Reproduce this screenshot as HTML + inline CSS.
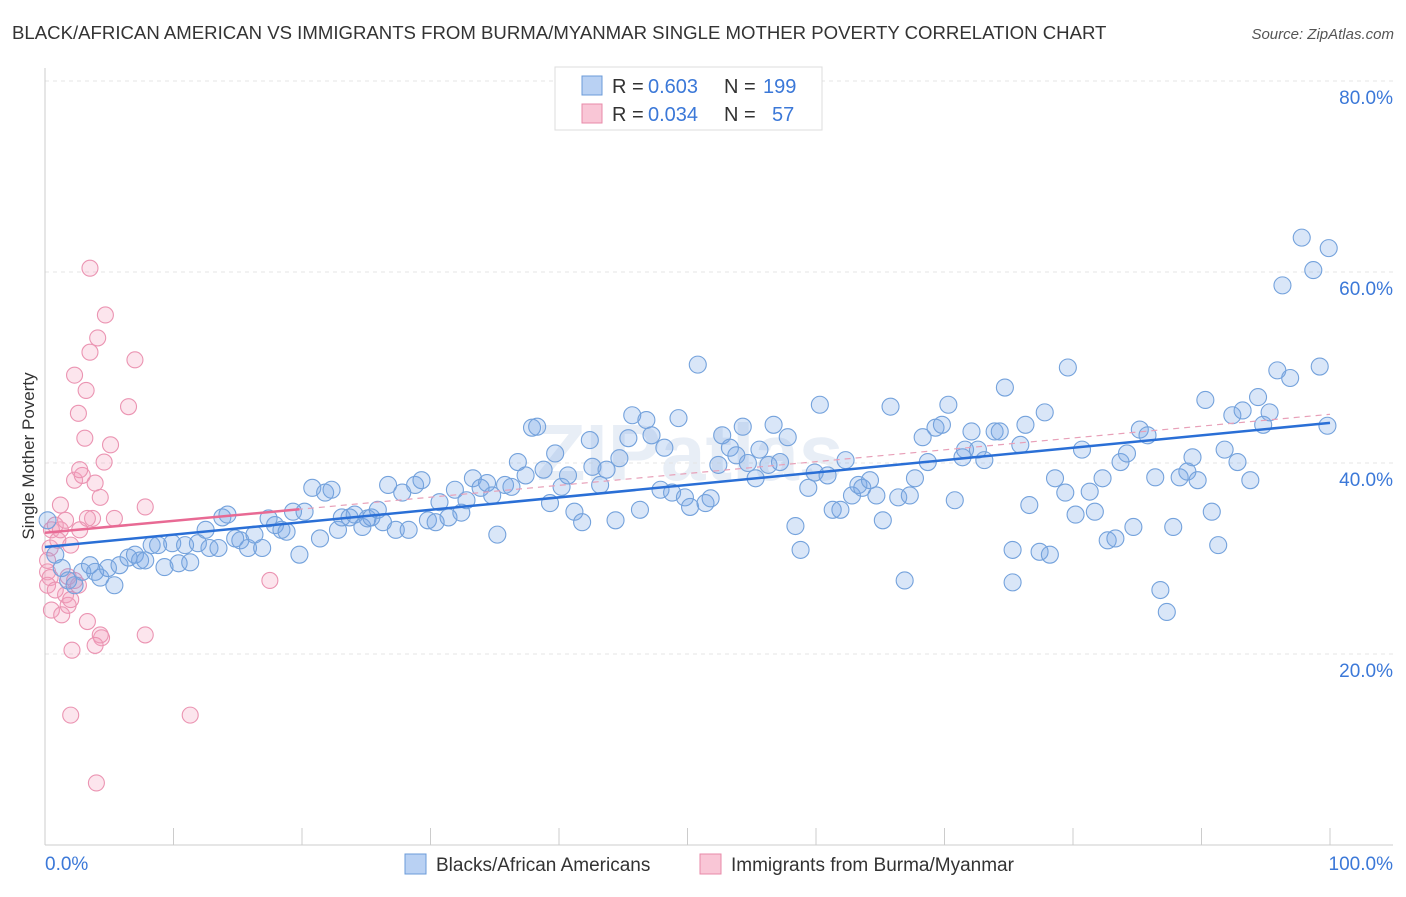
<!DOCTYPE html>
<html><head><meta charset="utf-8"><style>
body{margin:0;background:#fff;font-family:"Liberation Sans",sans-serif}
</style></head><body>
<svg id="chart" width="1406" height="892" xmlns="http://www.w3.org/2000/svg" font-family="Liberation Sans, sans-serif">
<text x="12" y="39" font-size="18.6" fill="#333">BLACK/AFRICAN AMERICAN VS IMMIGRANTS FROM BURMA/MYANMAR SINGLE MOTHER POVERTY CORRELATION CHART</text>
<text x="1394" y="39" font-size="15" fill="#555" font-style="italic" text-anchor="end">Source: ZipAtlas.com</text>
<text x="690" y="480" font-size="80" fill="#e8eef6" text-anchor="middle" font-weight="bold">ZIPatlas</text>
<g id="grid"></g><g id="axes"></g><g id="marks"></g>
<text transform="translate(34,456) rotate(-90)" font-size="17" fill="#333" text-anchor="middle">Single Mother Poverty</text>
<g font-size="20">
<rect x="555" y="67" width="267" height="63" fill="#fff" stroke="#ddd"/>
<rect x="582" y="76" width="20" height="19" fill="#b9d1f3" stroke="#6b9bd8"/>
<rect x="582" y="104" width="20" height="19" fill="#f9c6d6" stroke="#e88aa8"/>
<text x="612" y="93" fill="#333">R =</text><text x="648" y="93" fill="#3b78d8">0.603</text>
<text x="724" y="93" fill="#333">N =</text><text x="763" y="93" fill="#3b78d8">199</text>
<text x="612" y="121" fill="#333">R =</text><text x="648" y="121" fill="#3b78d8">0.034</text>
<text x="724" y="121" fill="#333">N =</text><text x="772" y="121" fill="#3b78d8">57</text>
</g>
<g>
<rect x="405" y="854" width="21" height="20" fill="#b9d1f3" stroke="#6b9bd8"/>
<text x="436" y="871" font-size="19" fill="#333">Blacks/African Americans</text>
<rect x="700" y="854" width="21" height="20" fill="#f9c6d6" stroke="#e88aa8"/>
<text x="731" y="871" font-size="19" fill="#333">Immigrants from Burma/Myanmar</text>
</g>
</svg>
<script>
const yTicks=[20,40,60,80];
const yTickLabels=["20.0%","40.0%","60.0%","80.0%"];
const xTickLabels=["0.0%","100.0%"];
const blueX=[0.2,0.8,1.3,1.8,2.3,2.9,3.5,3.9,4.3,4.9,5.4,5.8,6.5,7.0,7.4,7.8,8.3,8.8,9.3,9.9,10.4,10.9,11.3,11.9,12.5,12.8,13.5,13.8,14.2,14.8,15.2,15.8,16.3,16.9,17.4,17.9,18.4,18.8,19.3,19.8,20.2,20.8,21.4,21.8,22.3,22.8,23.1,23.7,24.1,24.7,25.1,25.4,25.9,26.3,26.7,27.3,27.8,28.3,28.8,29.3,29.8,30.4,30.7,31.4,31.9,32.4,32.8,33.3,33.9,34.4,34.8,35.2,35.8,36.3,36.8,37.4,37.9,38.3,38.8,39.3,39.7,40.2,40.7,41.2,41.8,42.4,42.6,43.2,43.7,44.4,44.7,45.4,45.7,46.3,46.8,47.2,47.9,48.2,48.8,49.3,49.8,50.2,50.8,51.4,51.8,52.4,52.7,53.3,53.8,54.3,54.7,55.3,55.6,56.3,56.7,57.2,57.8,58.4,58.8,59.4,59.9,60.3,60.9,61.3,61.9,62.3,62.8,63.3,63.6,64.2,64.7,65.2,65.8,66.4,66.9,67.3,67.7,68.3,68.7,69.3,69.8,70.3,70.8,71.4,71.6,72.1,72.6,73.1,73.9,74.3,74.7,75.3,75.3,75.9,76.3,76.6,77.4,77.8,78.2,78.6,79.4,79.6,80.2,80.7,81.3,81.7,82.3,82.7,83.3,83.7,84.2,84.7,85.2,85.8,86.4,86.8,87.3,87.8,88.3,88.9,89.3,89.7,90.3,90.8,91.3,91.8,92.4,92.8,93.2,93.8,94.4,94.8,95.3,95.9,96.3,96.9,97.8,98.7,99.2,99.9,99.8];
const blueY=[34.0,30.4,29.0,27.7,27.2,28.6,29.3,28.6,28.0,29.0,27.2,29.3,30.1,30.4,29.8,29.8,31.4,31.4,29.1,31.6,29.5,31.4,29.6,31.6,33.0,31.1,31.1,34.3,34.6,32.1,31.9,31.1,32.5,31.1,34.2,33.5,33.0,32.8,34.9,30.4,34.9,37.4,32.1,36.9,37.2,33.0,34.3,34.3,34.6,33.3,34.2,34.3,35.1,33.8,37.7,33.0,36.9,33.0,37.7,38.2,34.0,33.8,35.9,34.3,37.2,34.8,36.1,38.4,37.4,37.9,36.6,32.5,37.7,37.5,40.1,38.7,43.7,43.8,39.3,35.8,41.0,37.5,38.7,34.9,33.8,42.4,39.6,37.7,39.3,34.0,40.5,42.6,45.0,35.1,44.5,42.9,37.2,41.6,36.9,44.7,36.4,35.4,50.3,35.8,36.3,39.8,42.9,41.6,40.8,43.8,40.0,38.4,41.4,39.8,44.0,40.1,42.7,33.4,30.9,37.4,39.0,46.1,38.7,35.1,35.1,40.3,36.6,37.7,37.4,38.2,36.6,34.0,45.9,36.4,27.7,36.6,38.4,42.7,40.1,43.7,44.0,46.1,36.1,40.6,41.4,43.3,41.4,40.3,43.3,43.3,47.9,27.5,30.9,41.9,44.0,35.6,30.7,45.3,30.4,38.4,36.9,50.0,34.6,41.4,37.0,34.9,38.4,31.9,32.1,40.1,41.0,33.3,43.5,42.9,38.5,26.7,24.4,33.3,38.5,39.1,40.6,38.2,46.6,34.9,31.4,41.4,45.0,40.1,45.5,38.2,46.9,44.0,45.3,49.7,58.6,48.9,63.6,60.2,50.1,62.5,43.9];
const pinkX=[0.5,0.4,0.2,0.2,0.4,0.8,1.0,1.2,0.5,1.3,1.6,1.8,2.0,2.1,2.0,1.8,2.3,2.3,2.6,2.7,2.9,3.1,3.2,3.3,3.5,3.5,3.7,3.9,4.1,4.3,4.4,4.6,4.7,5.1,5.4,6.5,7.0,7.8,7.8,11.3,17.5,4.0,0.2,1.2,2.6,1.6,3.3,2.3,4.3,3.9,2.0,0.8,2.7];
const pinkY=[33.0,31.1,29.8,28.6,28.0,33.5,31.9,35.6,24.6,24.1,26.2,28.1,31.4,20.4,13.6,25.1,38.2,49.2,45.2,33.0,38.7,42.6,47.6,23.4,60.4,51.6,34.2,37.9,53.1,36.4,21.7,40.1,55.5,41.9,34.2,45.9,50.8,35.4,22.0,13.6,27.7,6.5,27.2,33.0,27.2,34.0,34.2,27.7,22.0,20.9,25.7,26.7,39.3];
const blueTrend=[31.2,44.2];
const pinkTrend=[32.7,45.1];
const pinkSolidEnd=19.8;

const NS="http://www.w3.org/2000/svg";
const X0=45,X1=1330,Y0=845,Yper=9.55;
const sx=v=>X0+(X1-X0)*v/100;
const sy=v=>Y0-v*Yper;
function mk(tag,attrs,parent){const e=document.createElementNS(NS,tag);for(const k in attrs)e.setAttribute(k,attrs[k]);parent.appendChild(e);return e;}
const grid=document.getElementById('grid'),axes=document.getElementById('axes'),marks=document.getElementById('marks');
yTicks.forEach((t,i)=>{
 const l=mk('line',{x1:X0,x2:1393,y1:sy(t),y2:sy(t),stroke:'#e4e4e4','stroke-dasharray':'4,4'},grid);
 
 
 const tx=mk('text',{x:1393,y:sy(t)+23,'font-size':19,fill:'#3b78d8','text-anchor':'end'},axes);
 tx.textContent=yTickLabels[i];
 
 
});
mk('line',{x1:X0,x2:X0,y1:68,y2:Y0,stroke:'#ccc'},axes);
mk('line',{x1:X0,x2:1393,y1:Y0,y2:Y0,stroke:'#ccc'},axes);
for(let i=0;i<=10;i++){mk('line',{x1:sx(i*10),x2:sx(i*10),y1:828,y2:Y0,stroke:'#ccc'},axes);}
const xl0=mk('text',{x:45,y:870,'font-size':19,fill:'#3b78d8'},axes);xl0.textContent=xTickLabels[0];


const xl1=mk('text',{x:1393,y:870,'font-size':19,fill:'#3b78d8','text-anchor':'end'},axes);xl1.textContent=xTickLabels[1];


pinkX.forEach((x,i)=>{
 const c=mk('circle',{cx:sx(x),cy:sy(pinkY[i]),r:8,fill:'rgba(244,160,190,0.28)',stroke:'#eb94b2','stroke-width':1.1},marks);
 
 
});
blueX.forEach((x,i)=>{
 const c=mk('circle',{cx:sx(x),cy:sy(blueY[i]),r:8.5,fill:'rgba(120,165,230,0.28)',stroke:'#74a2dc','stroke-width':1.1},marks);
 
 
});
const pd=mk('line',{x1:sx(0),y1:sy(pinkTrend[0]),x2:sx(100),y2:sy(pinkTrend[1]),stroke:'#e8a0b8','stroke-width':1.2,'stroke-dasharray':'6,5'},marks);


const ps=mk('line',{x1:sx(0),y1:sy(pinkTrend[0]),x2:sx(pinkSolidEnd),y2:sy(pinkTrend[0]+(pinkTrend[1]-pinkTrend[0])*pinkSolidEnd/100),stroke:'#e86a94','stroke-width':2.5},marks);


const bt=mk('line',{x1:sx(0),y1:sy(blueTrend[0]),x2:sx(100),y2:sy(blueTrend[1]),stroke:'#2a6fd6','stroke-width':2.5},marks);


</script>
</body></html>
